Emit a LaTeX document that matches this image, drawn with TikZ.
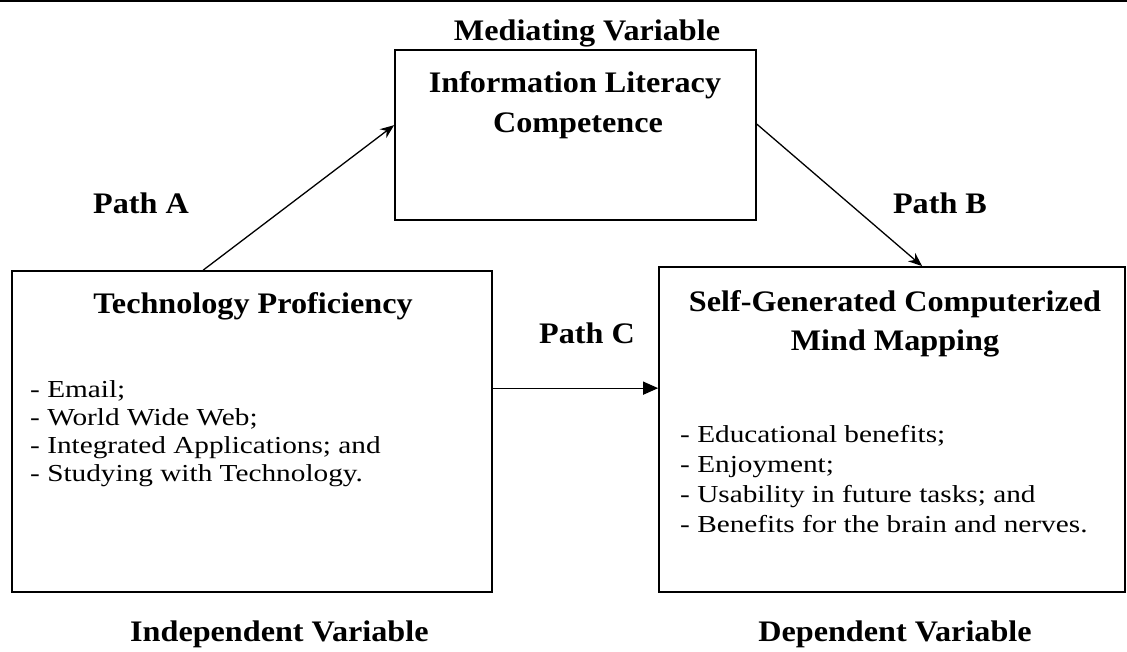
\documentclass[tikz,border=0pt]{standalone}
\usepackage{fontspec}
\setmainfont{Liberation Serif}
\newfontfamily\headf{Liberation Serif}[FakeStretch=1.08]
\newfontfamily\bodyf{Liberation Serif}[FakeStretch=1.2]
\usetikzlibrary{arrows.meta}
\begin{document}
\begin{tikzpicture}[x=1pt,y=-1pt,
  vbox/.style={draw,line width=1.7pt,inner sep=0pt},
  head/.style={font=\headf\bfseries\fontsize{29.8}{36}\selectfont,inner sep=0pt,anchor=base},
  bodyt/.style={font=\bodyf\fontsize{24.4}{29}\selectfont,inner sep=0pt,anchor=base west},
  conn/.style={line width=1.3pt,-{Stealth[length=14pt,width=11pt]}},
  connc/.style={line width=1.3pt,-{Triangle[length=15pt,width=13pt]}}]
\useasboundingbox (0,0) rectangle (1127,651);
% top rule
\coordinate (r1) at (0,1.2);
\coordinate (r2) at (1127,1.2);
\draw[line width=2.2pt] (r1) -- (r2);
% boxes
\node[vbox,minimum width=361pt,minimum height=170pt] (tb) at (575.5,135) {};
\node[vbox,minimum width=480pt,minimum height=321pt] (lb) at (252,431.5) {};
\node[vbox,minimum width=466pt,minimum height=325pt] (rb) at (892,429.5) {};
% texts
\node[head] (mv) at (587,40) {Mediating Variable};
\node[head] (il1) at (575,92) {Information Literacy};
\node[head] (il2) at (578,132) {Competence};
\node[head] (pa) at (141,213) {Path A};
\node[head] (pb) at (940,213) {Path B};
\node[head] (pc) at (587,343) {Path C};
\node[head] (tp) at (253,313) {Technology Proficiency};
\node[head] (sg1) at (895,311) {Self-Generated Computerized};
\node[head] (sg2) at (895,350) {Mind Mapping};
\node[head,anchor=base west] (iv) at (130,641) {Independent Variable};
\node[head] (dv) at (895,641) {Dependent Variable};
\node[bodyt] (l1) at (30,397) {- Email;};
\node[bodyt] (l2) at (30,425) {- World Wide Web;};
\node[bodyt] (l3) at (30,453) {- Integrated Applications; and};
\node[bodyt] (l4) at (30,481) {- Studying with Technology.};
\node[bodyt] (r1t) at (680,442) {- Educational benefits;};
\node[bodyt] (r2t) at (680,472) {- Enjoyment;};
\node[bodyt] (r3t) at (680,502) {- Usability in future tasks; and};
\node[bodyt] (r4t) at (680,532) {- Benefits for the brain and nerves.};
% connectors
\path (lb.north west) ++(192,0) coordinate (aS);
\path (tb.north west) ++(0,76) coordinate (aE);
\path (tb.north east) ++(0,75) coordinate (bS);
\path (rb.north west) ++(264,0) coordinate (bE);
\path (lb.north east) ++(0,118) coordinate (cS);
\path (rb.north west) ++(0,122) coordinate (cE);
\draw[conn] (aS) -- (aE);
\draw[conn] (bS) -- (bE);
\draw[connc] (cS) -- (cE);
\end{tikzpicture}
\end{document}
